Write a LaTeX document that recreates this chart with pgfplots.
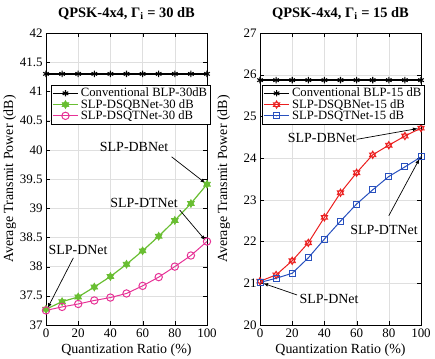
\documentclass[border=0pt]{standalone}
\usepackage{fontspec}
\setmainfont{Liberation Serif}
\usepackage{pgfplots}
\pgfplotsset{compat=1.18}
\definecolor{cgreen}{RGB}{105,190,50}
\definecolor{cmag}{RGB}{230,50,150}
\definecolor{cred}{RGB}{235,30,30}
\definecolor{cblue}{RGB}{40,80,190}
\pgfdeclareplotmark{hexagram}{%
 \pgfpathmoveto{\pgfqpointpolar{90}{\pgfplotmarksize}}%
 \pgfpathlineto{\pgfqpointpolar{210}{\pgfplotmarksize}}%
 \pgfpathlineto{\pgfqpointpolar{330}{\pgfplotmarksize}}%
 \pgfpathclose
 \pgfpathmoveto{\pgfqpointpolar{270}{\pgfplotmarksize}}%
 \pgfpathlineto{\pgfqpointpolar{30}{\pgfplotmarksize}}%
 \pgfpathlineto{\pgfqpointpolar{150}{\pgfplotmarksize}}%
 \pgfpathclose
 \pgfusepathqstroke}
\pgfdeclareplotmark{hexagram*}{%
 \pgfpathmoveto{\pgfqpointpolar{90}{\pgfplotmarksize}}%
 \pgfpathlineto{\pgfqpointpolar{210}{\pgfplotmarksize}}%
 \pgfpathlineto{\pgfqpointpolar{330}{\pgfplotmarksize}}%
 \pgfpathclose
 \pgfpathmoveto{\pgfqpointpolar{270}{\pgfplotmarksize}}%
 \pgfpathlineto{\pgfqpointpolar{30}{\pgfplotmarksize}}%
 \pgfpathlineto{\pgfqpointpolar{150}{\pgfplotmarksize}}%
 \pgfpathclose
 \pgfusepathqfillstroke}
\pgfdeclareplotmark{sqdot}{%
 \pgfpathrectangle{\pgfqpoint{-\pgfplotmarksize}{-\pgfplotmarksize}}{\pgfqpoint{2\pgfplotmarksize}{2\pgfplotmarksize}}%
 \pgfusepathqstroke
 \pgfpathcircle{\pgfpointorigin}{0.5pt}%
 \pgfusepathqfill}
\begin{document}
\begin{tikzpicture}
\pgfplotsset{
  every axis/.append style={
    scale only axis, width=161bp, height=292bp,
    xmin=0, xmax=100, xtick={0,20,...,100},
    grid=major, major grid style={gray!25},
    tick style={black}, axis line style={black, line width=0.6pt},
    tick label style={font=\fontsize{13}{13}\selectfont},
    /pgf/number format/assume math mode=true,
    xlabel={Quantization Ratio (\%)},
    ylabel={Average Transmit Power (dB)},
    xlabel style={at={(axis description cs:0.5,-0.086)}, anchor=center, font=\fontsize{14}{14}\selectfont},
    ylabel style={at={(axis description cs:-0.225,0.5)}, anchor=center, font=\fontsize{14}{14}\selectfont},
    title style={at={(axis description cs:0.5,1.045)}, anchor=center, font=\fontsize{14.5}{14.5}\selectfont\bfseries},
    legend cell align=left,
    legend style={font=\fontsize{12.7}{12.7}\selectfont, draw=black, fill=white, inner sep=1pt, row sep=-3pt, anchor=north west},
    legend image code/.code={\draw[mark repeat=2,mark phase=2] plot coordinates {(0cm,0cm) (0.45cm,0cm) (0.9cm,0cm)};},
  }
}
\begin{axis}[
  ymin=37, ymax=42, ytick={37,37.5,...,42},
  yticklabels={37,37.5,38,38.5,39,39.5,40,40.5,41,41.5,42},
  title={QPSK-4x4, Γ\textsubscript{i} = 30 dB},
  legend style={at={(0.03,0.822)}},
]
\addplot[black, line width=1.4pt, mark=asterisk, mark size=3.2pt, mark options={line width=1.1pt}]
 coordinates {(0,41.3)(10,41.3)(20,41.3)(30,41.3)(40,41.3)(50,41.3)(60,41.3)(70,41.3)(80,41.3)(90,41.3)(100,41.3)};
\addlegendentry{Conventional BLP-30dB}
\addplot[cgreen, line width=1.2pt, mark=hexagram*, mark size=4pt, mark options={fill=cgreen, line width=0.6pt}]
 coordinates {(0,37.27)(10,37.40)(20,37.48)(30,37.65)(40,37.83)(50,38.04)(60,38.27)(70,38.52)(80,38.79)(90,39.08)(100,39.41)};
\addlegendentry{SLP-DSQBNet-30 dB}
\addplot[cmag, line width=1pt, mark=o, mark size=3.7pt]
 coordinates {(0,37.25)(10,37.31)(20,37.36)(30,37.42)(40,37.47)(50,37.54)(60,37.67)(70,37.82)(80,38.00)(90,38.19)(100,38.43)};
\addlegendentry{SLP-DSQTNet-30 dB}
\node[font=\fontsize{14}{14}\selectfont] (a) at (axis cs:54.7,40.05) {SLP-DBNet};
\draw[-latex, line width=0.7pt] (axis cs:78,39.88) -- (axis cs:99,39.43);
\node[font=\fontsize{14}{14}\selectfont] at (axis cs:60.9,39.09) {SLP-DTNet};
\draw[-latex, line width=0.7pt] (axis cs:83,38.97) -- (axis cs:99,38.45);
\node[font=\fontsize{14}{14}\selectfont] at (axis cs:19.9,38.28) {SLP-DNet};
\draw[-latex, line width=0.7pt] (axis cs:17,38.15) -- (axis cs:1,37.29);
\end{axis}
\begin{axis}[
  at={(214bp,0)},
  ymin=20, ymax=27, ytick={20,...,27},
  title={QPSK-4x4, Γ\textsubscript{i} = 15 dB},
  legend style={at={(0.012,0.822)}},
]
\addplot[black, line width=1.4pt, mark=asterisk, mark size=3.2pt, mark options={line width=1.1pt}]
 coordinates {(0,25.87)(10,25.87)(20,25.87)(30,25.87)(40,25.87)(50,25.87)(60,25.87)(70,25.87)(80,25.87)(90,25.87)(100,25.87)};
\addlegendentry{Conventional BLP-15 dB}
\addplot[cred, line width=1pt, mark=hexagram, mark size=3.8pt, mark options={line width=0.8pt}]
 coordinates {(0,21.05)(10,21.20)(20,21.54)(30,21.97)(40,22.58)(50,23.17)(60,23.65)(70,24.08)(80,24.31)(90,24.53)(100,24.72)};
\addlegendentry{SLP-DSQBNet-15 dB}
\addplot[cblue, line width=1pt, mark=sqdot, mark size=3pt, mark options={line width=0.9pt}]
 coordinates {(0,21.02)(10,21.12)(20,21.24)(30,21.61)(40,22.06)(50,22.49)(60,22.90)(70,23.24)(80,23.56)(90,23.79)(100,24.03)};
\addlegendentry{SLP-DSQTNet-15 dB}
\node[font=\fontsize{14}{14}\selectfont] at (axis cs:38.5,24.48) {SLP-DBNet};
\draw[-latex, line width=0.7pt] (axis cs:60,24.45) -- (axis cs:98,24.71);
\node[font=\fontsize{14}{14}\selectfont] at (axis cs:77,22.28) {SLP-DTNet};
\draw[-latex, line width=0.7pt] (axis cs:80,22.62) -- (axis cs:99,23.98);
\node[font=\fontsize{14}{14}\selectfont] at (axis cs:42.9,20.62) {SLP-DNet};
\draw[-latex, line width=0.7pt] (axis cs:23,20.72) -- (axis cs:2,21.0);
\end{axis}
\pgfresetboundingbox
\useasboundingbox (-46bp,-34bp) rectangle (389bp,325bp);
\end{tikzpicture}
\end{document}
